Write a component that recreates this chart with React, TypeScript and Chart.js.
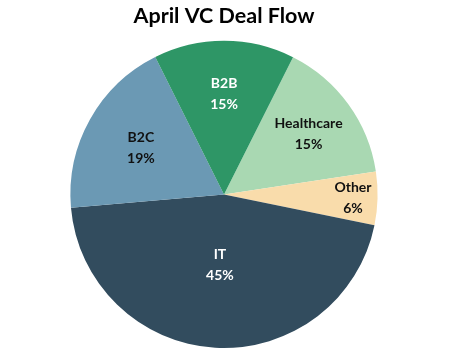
import React, { useEffect, useRef } from "react";
import { Chart, registerables } from "chart.js";

Chart.register(...registerables);

const categories = ["Healthcare", "Other", "IT", "B2C", "B2B"];
const shares = [15.2, 5.6, 45.4, 19.0, 14.8];
const sliceColors = ["#A9D8B2", "#F9DCAB", "#324C5E", "#6B99B4", "#2E9666"];
const labelColors = ["#111111", "#111111", "#FFFFFF", "#111111", "#FFFFFF"];
const labelRadius = [0.68, 0.84, 0.46, 0.62, 0.66];

const labelPlugin = {
  id: "sliceLabels",
  afterDatasetsDraw(chart: any) {
    const ctx = chart.ctx;
    const meta = chart.getDatasetMeta(0);
    ctx.save();
    ctx.font = "bold 14px Lato, 'Open Sans', sans-serif";
    ctx.textAlign = "center";
    ctx.textBaseline = "middle";
    meta.data.forEach((arc: any, i: number) => {
      const { x, y, startAngle, endAngle, outerRadius } = arc.getProps(
        ["x", "y", "startAngle", "endAngle", "outerRadius"],
        true
      );
      const mid = (startAngle + endAngle) / 2;
      const r = outerRadius * labelRadius[i];
      const cx = x + Math.cos(mid) * r;
      const cy = y + Math.sin(mid) * r;
      ctx.fillStyle = labelColors[i];
      ctx.fillText(categories[i], cx, cy - 10);
      ctx.fillText(Math.round(shares[i]) + "%", cx, cy + 11);
    });
    ctx.restore();
  },
};

export default function App() {
  const ref = useRef<HTMLCanvasElement>(null);
  useEffect(() => {
    document.body.style.margin = "0";
    const chart = new Chart(ref.current!, {
      type: "pie",
      data: {
        labels: categories,
        datasets: [
          {
            data: shares,
            backgroundColor: sliceColors,
            borderWidth: 0,
          },
        ],
      },
      options: {
        responsive: false,
        animation: false,
        rotation: 26.7,
        layout: { padding: { left: 0, right: 2, top: 0, bottom: 2 } },
        plugins: {
          legend: { display: false },
          tooltip: { enabled: false },
          title: {
            display: true,
            text: "April VC Deal Flow",
            color: "#000000",
            font: { family: "Lato, 'Open Sans', sans-serif", size: 21.5, weight: "bold", lineHeight: 1.2 },
            padding: { top: 3, bottom: 12 },
          },
        },
      },
      plugins: [labelPlugin],
    });
    return () => chart.destroy();
  }, []);
  return <canvas ref={ref} width={450} height={350} style={{ display: "block" }} />;
}
